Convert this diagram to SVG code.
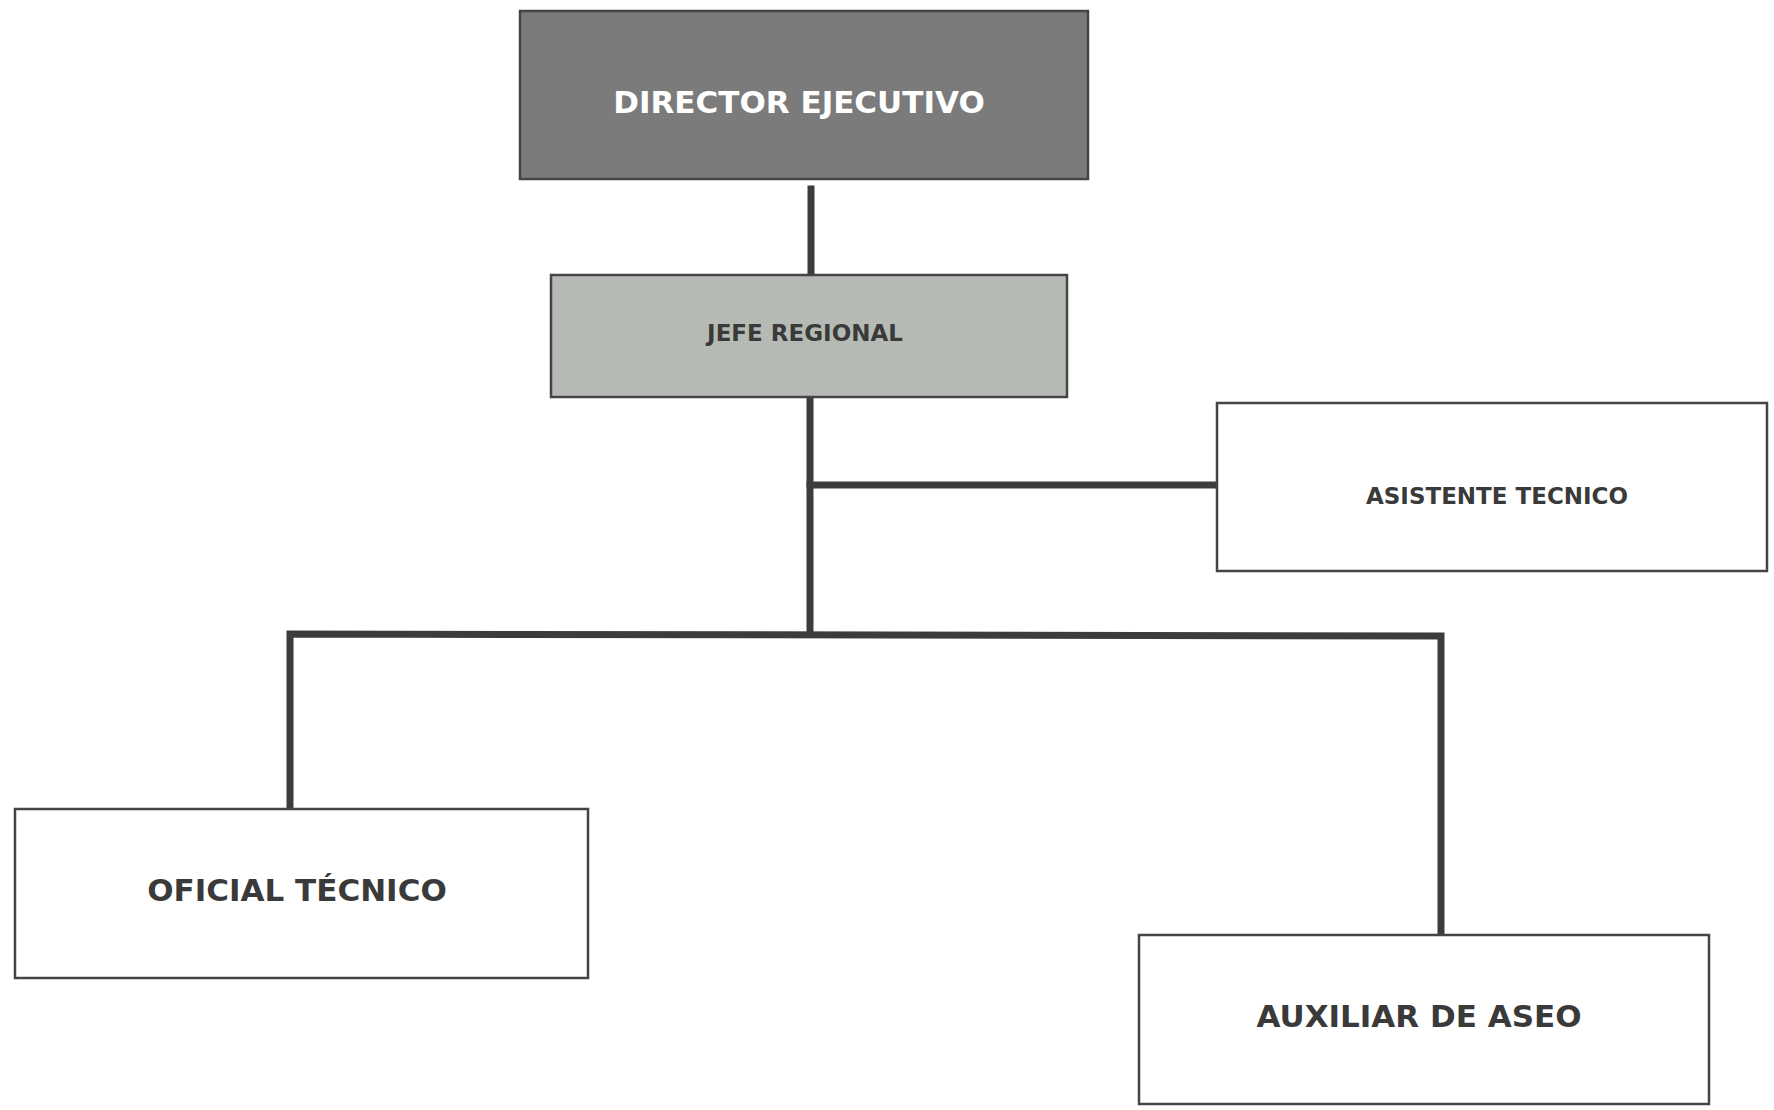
<svg xmlns="http://www.w3.org/2000/svg" width="1774" height="1110" viewBox="0 0 1774 1110">
<style>
.box{stroke:#454545;stroke-width:2.5}
.white{fill:#ffffff}
.lbl{font-family:"DejaVu Sans","Verdana",sans-serif;font-weight:bold;text-anchor:middle;fill:#3a3a3a}
.conn{stroke:#3c3c3c;stroke-width:7;fill:none;stroke-linecap:square}
</style>
<rect width="1774" height="1110" fill="#ffffff"/>
<g id="connectors">
<line class="conn" x1="811" y1="189" x2="811" y2="273"/>
<line class="conn" x1="810" y1="399" x2="810" y2="634"/>
<line class="conn" x1="810" y1="485" x2="1215" y2="485"/>
<polyline class="conn" points="290,807 290,634 1441,636 1441,932"/>
</g>
<g id="director">
<rect class="box" x="520" y="11" width="568" height="168" fill="#7b7b7b"/>
<text class="lbl" x="799" y="113" font-size="31" style="fill:#ffffff">DIRECTOR EJECUTIVO</text>
</g>
<g id="jefe">
<rect class="box" x="551" y="275" width="516" height="122" fill="#b6bab4"/>
<text class="lbl" x="805" y="341" font-size="23">JEFE REGIONAL</text>
</g>
<g id="asistente">
<rect class="box white" x="1217" y="403" width="550" height="168"/>
<text class="lbl" x="1497" y="504" font-size="23">ASISTENTE TECNICO</text>
</g>
<g id="oficial">
<rect class="box white" x="15" y="809" width="573" height="169"/>
<text class="lbl" x="297" y="901" font-size="31">OFICIAL TÉCNICO</text>
</g>
<g id="auxiliar">
<rect class="box white" x="1139" y="935" width="570" height="169"/>
<text class="lbl" x="1419" y="1027" font-size="31">AUXILIAR DE ASEO</text>
</g>
</svg>
